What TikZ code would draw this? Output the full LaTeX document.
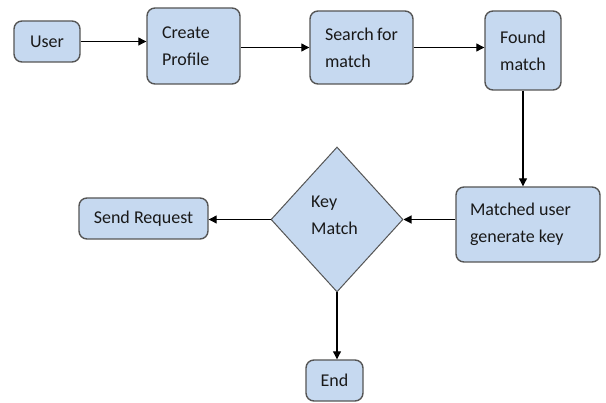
\documentclass[tikz,border=0pt]{standalone}
\usepackage{fontspec}
\setmainfont{Carlito}
\usetikzlibrary{arrows.meta,shapes.geometric}
\definecolor{boxfill}{RGB}{198,217,240}
\definecolor{boxline}{RGB}{85,85,85}
\begin{document}
\begin{tikzpicture}[x=1pt,y=-1pt,
  every node/.style={font=\fontsize{18}{27}\selectfont, text=black!90},
  box/.style={draw=boxline, line width=1.4pt, fill=boxfill, rounded corners=8pt, inner sep=0pt},
  dia/.style={draw=boxline, line width=1pt, fill=boxfill, diamond, inner sep=0pt, minimum width=132pt, minimum height=145pt},
  conn/.style={draw=black, line width=1.1pt, -{Triangle[length=8pt,width=8pt]}}]
\useasboundingbox (0,0) rectangle (606,403);
\node[box, minimum width=66pt, minimum height=41pt] (user) at (47,41.5) {User};
\node[box, minimum width=93pt, minimum height=76pt, text width=63pt, align=flush left] (create) at (193.5,46) {Create\\Profile};
\node[box, minimum width=103pt, minimum height=73pt, text width=73pt, align=flush left] (search) at (361.5,47.5) {Search~for\\match};
\node[box, minimum width=76pt, minimum height=79pt, align=center] (found) at (523,50.5) {Found\\match};
\node[box, minimum width=144pt, minimum height=75pt, text width=116pt, align=flush left] (matched) at (528,224.5) {Matched~user\\generate~key};
\node[dia] (key) at (337,219.5) {};
\node[anchor=west, align=flush left, inner sep=0pt] (keytext) at (311,215) {Key\\Match};
\node[box, minimum width=129pt, minimum height=41pt] (send) at (143.5,218.5) {Send Request};
\node[box, minimum width=57pt, minimum height=41pt] (end) at (334.5,380.5) {End};
\draw[conn] (user.east) -- (user.east -| create.west);
\draw[conn] (search.west -| create.east) -- (search.west);
\draw[conn] (search.east) -- (search.east -| found.west);
\draw[conn] (found.south) -- (found.south |- matched.north);
\draw[conn] (matched.west |- key.east) -- (key.east);
\draw[conn] (key.west) -- (key.west -| send.east);
\draw[conn] (key.south) -- (key.south |- end.north);
\end{tikzpicture}
\end{document}
